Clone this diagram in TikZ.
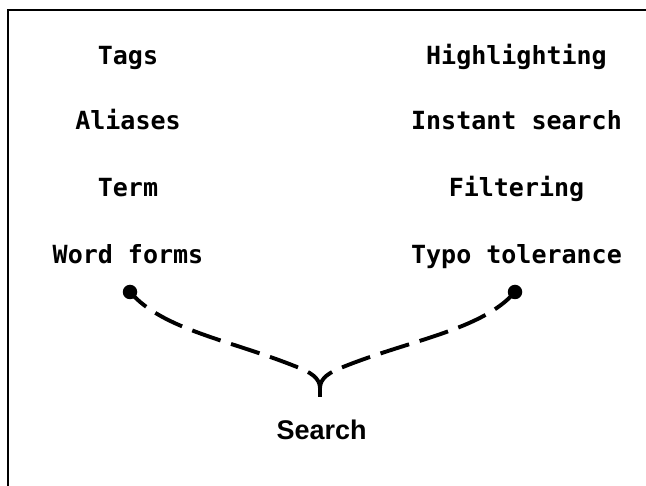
\documentclass[tikz,border=0pt]{standalone}
\usepackage{fontspec}
\setmainfont{Liberation Sans}
\newfontfamily\monobold{DejaVu Sans Mono}[BoldFont={DejaVu Sans Mono Bold}]
\begin{document}
\begin{tikzpicture}[x=1pt,y=-1pt,
  feature/.style={anchor=base,inner sep=0pt,font=\monobold\bfseries\fontsize{25}{30}\selectfont},
  goal/.style={anchor=base,inner sep=0pt,font=\bfseries\fontsize{27}{30}\selectfont},
  endpoint/.style={circle,fill=black,inner sep=0pt,minimum size=14.5pt},
  link/.style={line width=3.9pt,dash pattern=on 30pt off 11pt},
  frame/.style={line width=1.7pt}]
\useasboundingbox (0,0) rectangle (646,486);
\fill[white] (0,0) rectangle (646,486);
\draw[frame] (8,486) -- (8,10) -- (646,10);

% left column
\node[feature] (tags)    at (128,64.3)  {Tags};
\node[feature] (aliases) at (128,130)   {Aliases};
\node[feature] (term)    at (128,196.7) {Term};
\node[feature] (forms)   at (128,263.3) {Word forms};
% right column
\node[feature] (highlight) at (516.5,64.3)  {Highlighting};
\node[feature] (instant)   at (516.5,130)   {Instant search};
\node[feature] (filter)    at (516.5,196.7) {Filtering};
\node[feature] (typo)      at (516.5,263.3) {Typo tolerance};

\node[goal] (search) at (321.7,440) {Search};

\node[endpoint] (dotL) at (130,292) {};
\node[endpoint] (dotR) at (515,292) {};
\coordinate (merge) at (320,397);

\draw[link] (merge) -- (320,388) .. controls (320,378) and (310,372) .. (297,367)
  .. controls (230,340) and (163,330) .. (dotL.center);
\draw[link] (merge) -- (320,388) .. controls (320,378) and (330,372) .. (343,367)
  .. controls (410,340) and (482,330) .. (dotR.center);
\end{tikzpicture}
\end{document}
